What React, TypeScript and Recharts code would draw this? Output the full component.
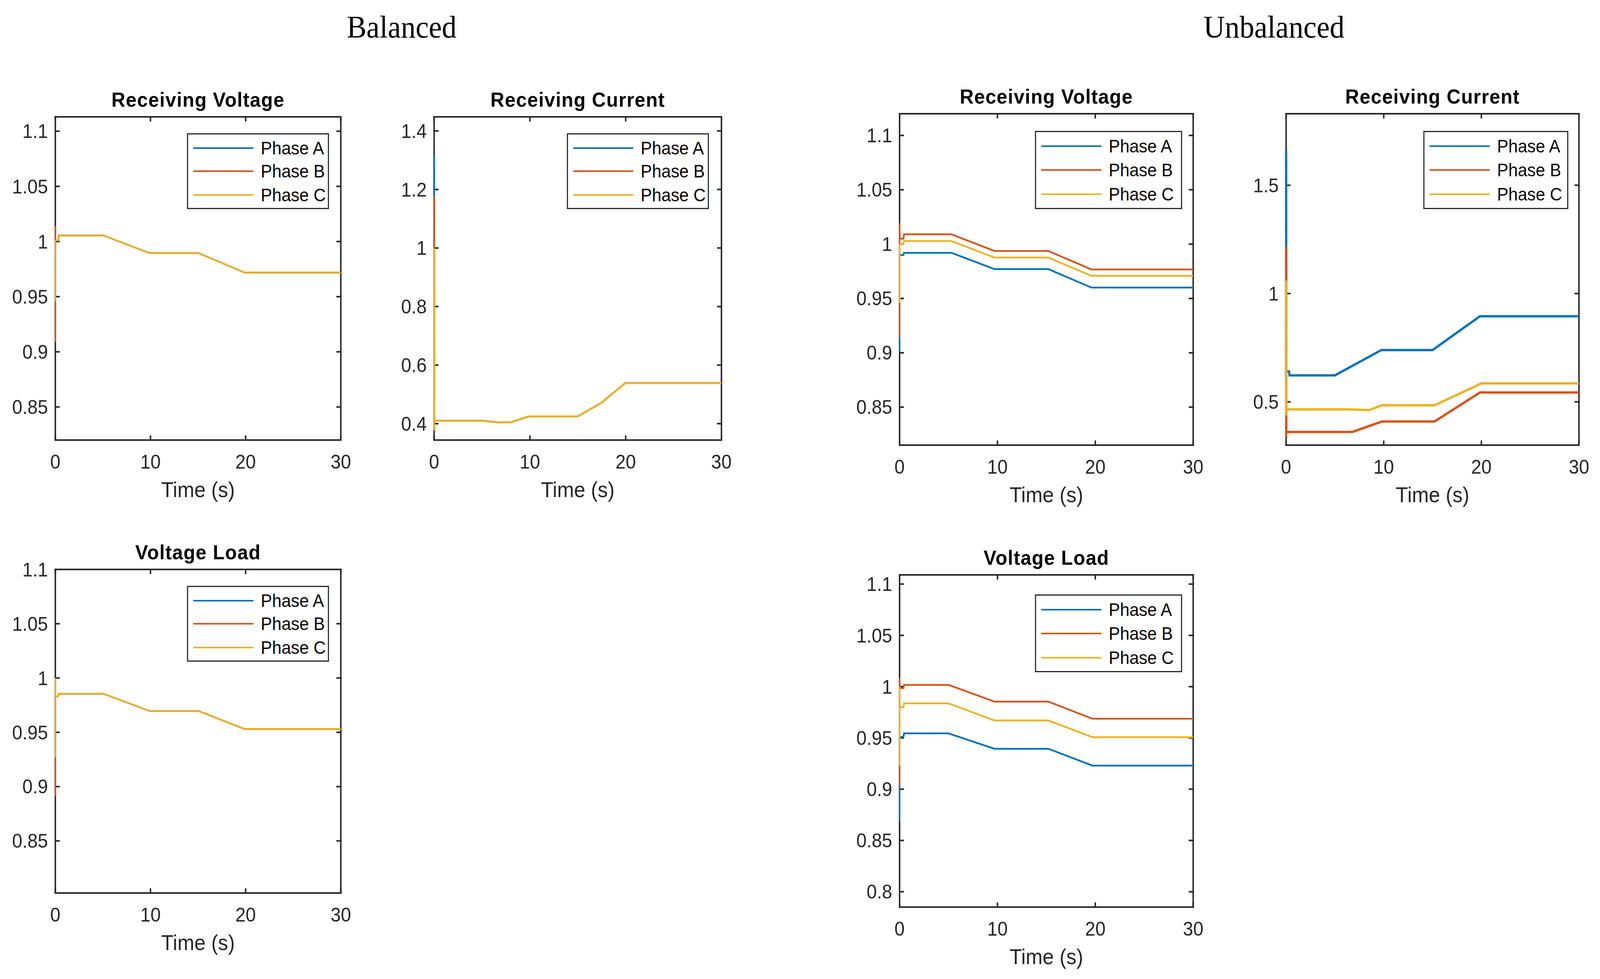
import React from 'react';
import { LineChart, Line, XAxis, YAxis, Legend } from 'recharts';

const COLORS = ['#0072BD', '#D95319', '#EDB120'];
const PHASES = ['Phase A', 'Phase B', 'Phase C'];
const X_TICKS = [0, 10, 20, 30];

// y tick labels
const RV_TICKS = [0.85, 0.9, 0.95, 1, 1.05, 1.1];
const RC_BAL_TICKS = [0.4, 0.6, 0.8, 1, 1.2, 1.4];
const RC_UNB_TICKS = [0.5, 1, 1.5];
const VL_BAL_TICKS = [0.85, 0.9, 0.95, 1, 1.05, 1.1];
const VL_UNB_TICKS = [0.8, 0.85, 0.9, 0.95, 1, 1.05, 1.1];

// Balanced - Receiving Voltage
const balRvT = [0, 0, 0.02, 0.3, 0.35, 5.05, 9.9, 15.05, 19.9, 30];
const balRvA = [0.95, 1.0, 1.001, 1.001, 1.0055, 1.0055, 0.9895, 0.9895, 0.9718, 0.9718];
const balRvB = [0.909, 1.0138, 1.001, 1.001, 1.0055, 1.0055, 0.9895, 0.9895, 0.9718, 0.9718];
const balRvC = [0.946, 1.0, 1.001, 1.001, 1.0055, 1.0055, 0.9895, 0.9895, 0.9718, 0.9718];

// Balanced - Receiving Current
const balRcT = [0, 0, 0.02, 0.3, 5, 6.8, 8, 9.9, 15, 17.5, 19.95, 30];
const balRcA = [0.377, 1.316, 0.412, 0.41, 0.41, 0.404, 0.405, 0.425, 0.425, 0.472, 0.539, 0.539];
const balRcB = [0.377, 1.177, 0.412, 0.41, 0.41, 0.404, 0.405, 0.425, 0.425, 0.472, 0.539, 0.539];
const balRcC = [0.377, 1.0, 0.412, 0.41, 0.41, 0.404, 0.405, 0.425, 0.425, 0.472, 0.539, 0.539];

// Unbalanced - Receiving Voltage
const unbRvT = [0, 0, 0.02, 0.4, 0.45, 5.3, 9.7, 15.2, 19.6, 30];
const unbRvA = [0.901, 0.99, 0.99, 0.99, 0.992, 0.992, 0.977, 0.977, 0.96, 0.96];
const unbRvB = [0.914, 1.019, 1.005, 1.005, 1.009, 1.009, 0.9937, 0.9937, 0.9767, 0.9767];
const unbRvC = [0.946, 1.0, 1.0, 1.0, 1.0028, 1.0028, 0.9876, 0.9876, 0.9708, 0.9708];

// Unbalanced - Receiving Current
const unbRcTA = [0, 0, 0.02, 0.3, 0.35, 5, 9.75, 15, 19.85, 30];
const unbRcA = [0.62, 1.664, 0.64, 0.64, 0.622, 0.622, 0.739, 0.739, 0.895, 0.895];
const unbRcTB = [0, 0, 0.02, 6.8, 9.8, 15.2, 19.85, 30];
const unbRcB = [0.335, 1.216, 0.361, 0.361, 0.409, 0.409, 0.543, 0.543];
const unbRcTC = [0, 0, 0.02, 6.3, 8.5, 9.8, 15.2, 20, 30];
const unbRcC = [0.436, 1.06, 0.465, 0.465, 0.462, 0.484, 0.484, 0.585, 0.585];

// Balanced - Voltage Load
const balVlT = [0, 0, 0.02, 0.3, 0.35, 5.05, 9.9, 15.05, 19.9, 30];
const balVlA = [0.93, 0.983, 0.983, 0.983, 0.9855, 0.9855, 0.9696, 0.9696, 0.953, 0.953];
const balVlB = [0.891, 0.983, 0.983, 0.983, 0.9855, 0.9855, 0.9696, 0.9696, 0.953, 0.953];
const balVlC = [0.927, 1.0, 0.983, 0.983, 0.9855, 0.9855, 0.9696, 0.9696, 0.953, 0.953];

// Unbalanced - Voltage Load
const unbVlT = [0, 0, 0.02, 0.4, 0.45, 5, 9.7, 15.2, 19.7, 30];
const unbVlA = [0.869, 0.951, 0.951, 0.951, 0.9544, 0.9544, 0.9394, 0.9394, 0.923, 0.923];
const unbVlB = [0.903, 1.0085, 0.9986, 0.9986, 1.0017, 1.0017, 0.9854, 0.9854, 0.9687, 0.9687];
const unbVlC = [0.923, 1.0, 0.98, 0.98, 0.9837, 0.9837, 0.967, 0.967, 0.9507, 0.9507];

const zip = (t: number[], v: number[]) => t.map((x, i) => ({ t: x, v: v[i] }));

const AXIS = '#262626';
const FONT = '"Liberation Sans", Arial, sans-serif';
const fmt = (v: number) => String(Number(v.toFixed(2)));

type Box = { x: number; y: number; w: number; h: number };
type Leg = { dx: number; dy: number; w: number; h: number };

function LegendBox({ payload, leg }: any) {
  const rows = [0.196, 0.5, 0.812];
  return (
    <div
      style={{
        boxSizing: 'border-box',
        width: leg.w,
        height: leg.h,
        border: `3px solid ${AXIS}`,
        background: '#fff',
        position: 'relative',
      }}
    >
      {(payload || []).map((p: any, i: number) => (
        <div
          key={p.value}
          style={{
            position: 'absolute',
            left: 0,
            top: leg.h * rows[i] - 3 - 30,
            height: 60,
            display: 'flex',
            alignItems: 'center',
          }}
        >
          <svg width={180} height={60} style={{ display: 'block' }}>
            <line x1={14} x2={177} y1={30} y2={30} stroke={p.color} strokeWidth={4} />
          </svg>
          <span style={{ marginLeft: 17, fontFamily: FONT, fontSize: 46, color: '#000', lineHeight: '60px', whiteSpace: 'nowrap' }}>
            {p.value}
          </span>
        </div>
      ))}
    </div>
  );
}

function Panel({
  box,
  title,
  yDomain,
  yTicks,
  series,
  lineWidth,
  leg,
}: {
  box: Box;
  title: string;
  yDomain: [number, number];
  yTicks: number[];
  series: { t: number; v: number }[][];
  lineWidth: number;
  leg: Leg;
}) {
  const YW = 220;
  const MT = 60;
  const MR = 80;
  const XH = 180;
  const width = YW + box.w + MR;
  const height = MT + box.h + XH;
  const tickStyle = { fontSize: 50, fill: AXIS, fontFamily: FONT };
  const lineStyle = { stroke: AXIS, strokeWidth: 4, strokeLinecap: 'square' as const };
  const lineProps: any = { zIndex: 700 };
  return (
    <div style={{ position: 'absolute', left: box.x - YW, top: box.y - MT, width, height }}>
      <div
        style={{
          position: 'absolute',
          left: YW - 100,
          width: box.w + 200,
          top: MT - 44 - 35,
          height: 70,
          lineHeight: '70px',
          textAlign: 'center',
          fontFamily: FONT,
          fontWeight: 'bold',
          fontSize: 52,
          letterSpacing: 1.5,
          color: '#000',
          whiteSpace: 'nowrap',
        }}
      >
        {title}
      </div>
      <LineChart width={width} height={height} margin={{ top: MT - 1, right: MR - 1, left: 0, bottom: 0 }}>
        <XAxis
          dataKey="t"
          type="number"
          domain={[0, 30]}
          ticks={X_TICKS}
          interval={0}
          height={XH}
          tickSize={-10}
          tickMargin={48}
          tick={tickStyle}
          axisLine={lineStyle}
          tickLine={lineStyle}
          label={{ value: 'Time (s)', position: 'insideBottom', offset: 34, fontSize: 55, fill: AXIS, fontFamily: FONT }}
        />
        <XAxis
          xAxisId="top"
          orientation="top"
          dataKey="t"
          type="number"
          domain={[0, 30]}
          ticks={X_TICKS}
          interval={0}
          height={1}
          tickSize={-10}
          tickFormatter={() => ''}
          axisLine={lineStyle}
          tickLine={lineStyle}
        />
        <YAxis
          type="number"
          domain={yDomain}
          ticks={yTicks}
          interval={0}
          width={YW}
          tickSize={-10}
          tickMargin={30}
          tick={tickStyle}
          tickFormatter={fmt}
          axisLine={lineStyle}
          tickLine={lineStyle}
        />
        <YAxis
          yAxisId="right"
          orientation="right"
          type="number"
          domain={yDomain}
          ticks={yTicks}
          interval={0}
          width={1}
          tickSize={-10}
          tickFormatter={() => ''}
          axisLine={lineStyle}
          tickLine={lineStyle}
        />
        <Line
          key="frame"
          name="frame"
          data={series[0]}
          dataKey="v"
          xAxisId="top"
          yAxisId="right"
          stroke="none"
          strokeWidth={0}
          dot={false}
          activeDot={false}
          legendType="none"
          isAnimationActive={false}
        />
        {series.map((d, i) => (
          <Line
            key={PHASES[i]}
            name={PHASES[i]}
            data={d}
            dataKey="v"
            type="linear"
            stroke={COLORS[i]}
            strokeWidth={lineWidth}
            dot={false}
            activeDot={false}
            isAnimationActive={false}
            {...lineProps}
          />
        ))}
        <Legend
          layout="vertical"
          align="center"
          verticalAlign="middle"
          wrapperStyle={{ position: 'absolute', left: YW + leg.dx, top: MT + leg.dy, width: leg.w, height: leg.h }}
          content={(props: any) => (
            <LegendBox payload={(props.payload || []).filter((p: any) => PHASES.includes(p.value))} leg={leg} />
          )}
        />
      </LineChart>
    </div>
  );
}

const W = 4338;
const H = 2505;

export default function App() {
  const vw = (typeof document !== 'undefined' && document.documentElement.clientWidth) || W;
  const vh = (typeof window !== 'undefined' && window.innerHeight) || H;
  const sx = Math.min(1, vw / W);
  const sy = Math.min(1, vh / H);
  const headStyle: React.CSSProperties = {
    position: 'absolute',
    top: 69 - 50,
    height: 100,
    lineHeight: '100px',
    width: 800,
    textAlign: 'center',
    fontFamily: '"Liberation Serif", "DejaVu Serif", serif',
    fontSize: 80,
    color: '#000',
  };
  return (
    <div style={{ position: 'absolute', left: 0, top: 0, width: W * sx, height: H * sy, overflow: 'hidden', background: '#fff' }}>
      <div
        style={{
          position: 'absolute',
          left: 0,
          top: 0,
          width: W,
          height: H,
          background: '#fff',
          transform: `scale(${sx}, ${sy})`,
          transformOrigin: '0 0',
        }}
      >
        <div style={{ ...headStyle, left: 1089 - 400 }}>Balanced</div>
        <div style={{ ...headStyle, left: 3454 - 400 }}>Unbalanced</div>

        <Panel
          box={{ x: 150, y: 299, w: 774, h: 827 }}
          title="Receiving Voltage"
          yDomain={[0.82, 1.113]}
          yTicks={RV_TICKS}
          series={[zip(balRvT, balRvA), zip(balRvT, balRvB), zip(balRvT, balRvC)]}
          lineWidth={4}
          leg={{ dx: 357, dy: 42, w: 385, h: 194 }}
        />
        <Panel
          box={{ x: 1177, y: 299, w: 779, h: 827 }}
          title="Receiving Current"
          yDomain={[0.344, 1.448]}
          yTicks={RC_BAL_TICKS}
          series={[zip(balRcT, balRcA), zip(balRcT, balRcB), zip(balRcT, balRcC)]}
          lineWidth={4.5}
          leg={{ dx: 360, dy: 42, w: 385, h: 194 }}
        />
        <Panel
          box={{ x: 2439, y: 291, w: 796, h: 848 }}
          title="Receiving Voltage"
          yDomain={[0.815, 1.12]}
          yTicks={RV_TICKS}
          series={[zip(unbRvT, unbRvA), zip(unbRvT, unbRvB), zip(unbRvT, unbRvC)]}
          lineWidth={4.5}
          leg={{ dx: 367, dy: 44, w: 399, h: 200 }}
        />
        <Panel
          box={{ x: 3487, y: 291, w: 794, h: 848 }}
          title="Receiving Current"
          yDomain={[0.3, 1.83]}
          yTicks={RC_UNB_TICKS}
          series={[zip(unbRcTA, unbRcA), zip(unbRcTB, unbRcB), zip(unbRcTC, unbRcC)]}
          lineWidth={6}
          leg={{ dx: 372, dy: 44, w: 393, h: 200 }}
        />
        <Panel
          box={{ x: 150, y: 1457, w: 774, h: 828 }}
          title="Voltage Load"
          yDomain={[0.802, 1.1]}
          yTicks={VL_BAL_TICKS}
          series={[zip(balVlT, balVlA), zip(balVlT, balVlB), zip(balVlT, balVlC)]}
          lineWidth={4}
          leg={{ dx: 357, dy: 42, w: 385, h: 194 }}
        />
        <Panel
          box={{ x: 2439, y: 1471, w: 796, h: 850 }}
          title="Voltage Load"
          yDomain={[0.785, 1.109]}
          yTicks={VL_UNB_TICKS}
          series={[zip(unbVlT, unbVlA), zip(unbVlT, unbVlB), zip(unbVlT, unbVlC)]}
          lineWidth={4.5}
          leg={{ dx: 367, dy: 50, w: 399, h: 199 }}
        />
      </div>
    </div>
  );
}
